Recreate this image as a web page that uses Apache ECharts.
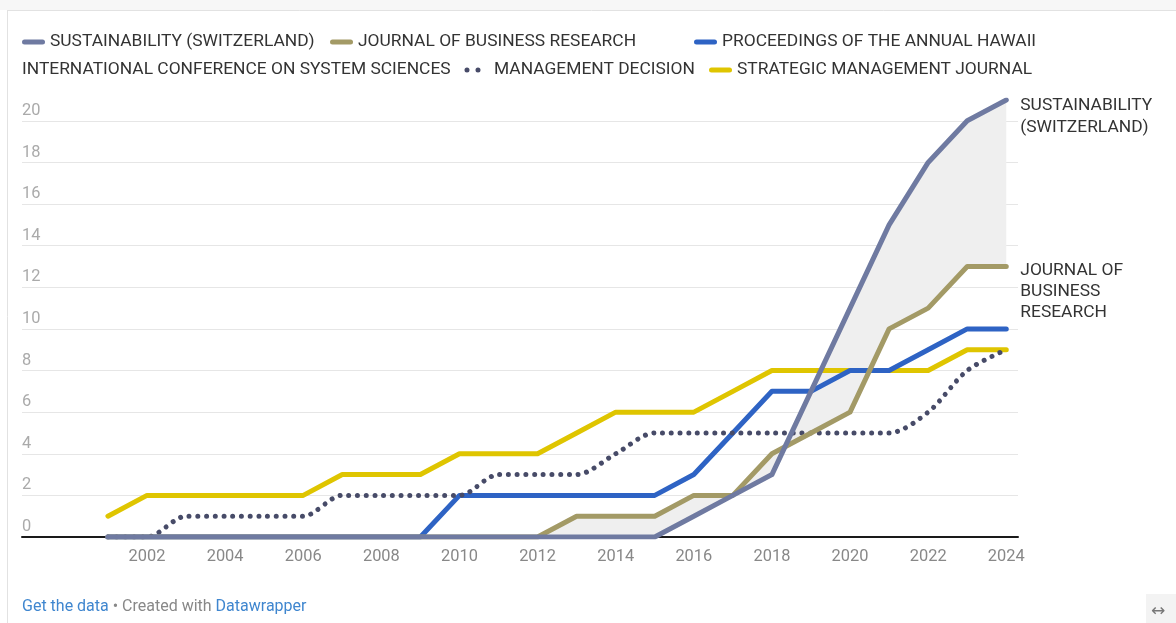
<!DOCTYPE html>
<html>
<head>
<meta charset="utf-8">
<script src="https://cdn.jsdelivr.net/npm/echarts@6/dist/echarts.min.js"></script>
<style>
html,body{margin:0;padding:0;background:#fff;}
#chart{position:absolute;left:0;top:0;width:1176px;height:623px;}
</style>
</head>
<body>
<div id="chart"></div>
<script>
// ---- data ----
const years = [2001,2002,2003,2004,2005,2006,2007,2008,2009,2010,2011,2012,2013,2014,2015,2016,2017,2018,2019,2020,2021,2022,2023,2024];
const sustainability = [0,0,0,0,0,0,0,0,0,0,0,0,0,0,0,1,2,3,7,11,15,18,20,21];
const journalBusinessResearch = [0,0,0,0,0,0,0,0,0,0,0,0,1,1,1,2,2,4,5,6,10,11,13,13];
const hawaiiConference = [0,0,0,0,0,0,0,0,0,2,2,2,2,2,2,3,5,7,7,8,8,9,10,10];
const managementDecision = [0,0,1,1,1,1,2,2,2,2,3,3,3,4,5,5,5,5,5,5,5,6,8,9];
const strategicManagement = [1,2,2,2,2,2,3,3,3,4,4,4,5,6,6,6,7,8,8,8,8,8,9,9];
const xTickLabels = [2002,2004,2006,2008,2010,2012,2014,2016,2018,2020,2022,2024];
const yTickLabels = [0,2,4,6,8,10,12,14,16,18,20];

const names = {
  sust: 'SUSTAINABILITY (SWITZERLAND)',
  jbr: 'JOURNAL OF BUSINESS RESEARCH',
  hawaii: 'PROCEEDINGS OF THE ANNUAL HAWAII INTERNATIONAL CONFERENCE ON SYSTEM SCIENCES',
  md: 'MANAGEMENT DECISION',
  smj: 'STRATEGIC MANAGEMENT JOURNAL'
};
const colors = {
  sust: '#6f7aa1',
  jbr: '#a39a66',
  hawaii: '#2e63c4',
  md: '#474b68',
  smj: '#dfc500'
};

const pair = arr => years.map((y, i) => [y, arr[i]]);

const FONT = 'Roboto, "Noto Sans", sans-serif';
const FS = 17.4;
const pill = 'path://M2.5,0H20.5A2.5,2.5 0 0 1 20.5,5H2.5A2.5,2.5 0 0 1 2.5,0Z';
const dots = 'path://M2.5,0A2.5,2.5 0 1 1 2.5,5A2.5,2.5 0 1 1 2.5,0ZM13.5,0A2.5,2.5 0 1 1 13.5,5A2.5,2.5 0 1 1 13.5,0Z';

function legend(name, left, top, opts) {
  return Object.assign({
    data: [name], left: left, top: top, padding: 0, orient: 'horizontal',
    icon: pill, itemWidth: 23, itemHeight: 5, selectedMode: false,
    textStyle: { color: '#333', fontSize: FS, fontFamily: FONT, lineHeight: 20 }
  }, opts || {});
}

const chart = echarts.init(document.getElementById('chart'), null, { renderer: 'canvas' });

const option = {
  animation: false,
  backgroundColor: '#fff',
  grid: { left: 22, right: 158, top: 100, bottom: 86, containLabel: false },
  legend: [
    legend(names.sust, 22, 32),
    legend(names.jbr, 330, 32),
    legend(names.hawaii, 694, 32, { formatter: () => 'PROCEEDINGS OF THE ANNUAL HAWAII' }),
    legend(names.md, 464.5, 60, { icon: dots, itemWidth: 16, itemHeight: 5,
      textStyle: { color: '#333', fontSize: FS, fontFamily: FONT, lineHeight: 20, padding: [0, 0, 0, 8.5] } }),
    legend(names.smj, 709, 60)
  ],
  xAxis: {
    type: 'value', min: 1998.8, max: 2024.3,
    axisLine: { show: true, onZero: true, lineStyle: { color: '#1a1a1a', width: 2 } },
    axisTick: { show: false },
    splitLine: { show: false },
    axisLabel: { customValues: xTickLabels, color: '#888', fontSize: 16.4, fontFamily: FONT, margin: 12,
      formatter: v => String(v) }
  },
  yAxis: {
    type: 'value', min: 0, max: 21,
    axisLine: { show: false },
    axisTick: { show: false, customValues: yTickLabels },
    splitLine: { show: true, lineStyle: { color: '#e6e6e6', width: 1 } },
    axisLabel: { customValues: yTickLabels, inside: true, margin: 0, align: 'left', verticalAlign: 'bottom',
      padding: [0, 0, 2, 0], color: '#aaa', fontSize: 16.4, fontFamily: FONT }
  },
  series: [
    {
      type: 'custom', name: 'fill', silent: true, z: 1,
      data: [[2012, 0]],
      renderItem: function (params, api) {
        const pts = [];
        for (let i = 0; i < years.length; i++) {
          if (years[i] >= 2012) pts.push(api.coord([years[i], sustainability[i]]));
        }
        for (let i = years.length - 1; i >= 0; i--) {
          if (years[i] >= 2012) pts.push(api.coord([years[i], journalBusinessResearch[i]]));
        }
        return { type: 'polygon', shape: { points: pts }, style: { fill: '#efefef', stroke: null } };
      }
    },
    {
      type: 'line', name: names.smj, data: pair(strategicManagement), symbol: 'none', z: 3,
      color: colors.smj,
      lineStyle: { color: colors.smj, width: 5, cap: 'round', join: 'round' },
      emphasis: { disabled: true }
    },
    {
      type: 'line', name: names.hawaii, data: pair(hawaiiConference), symbol: 'none', z: 4,
      color: colors.hawaii,
      lineStyle: { color: colors.hawaii, width: 5, cap: 'round', join: 'round' },
      emphasis: { disabled: true }
    },
    {
      type: 'line', name: names.md, data: pair(managementDecision), symbol: 'none', z: 5,
      smooth: 0.3,
      color: colors.md,
      lineStyle: { color: colors.md, width: 5, type: [0.01, 8.7], cap: 'round' },
      emphasis: { disabled: true }
    },
    {
      type: 'line', name: names.jbr, data: pair(journalBusinessResearch), symbol: 'none', z: 6,
      color: colors.jbr,
      lineStyle: { color: colors.jbr, width: 5, cap: 'round', join: 'round' },
      emphasis: { disabled: true },
      endLabel: { show: true, formatter: 'JOURNAL OF\nBUSINESS\nRESEARCH', distance: 14,
        align: 'left', verticalAlign: 'top', offset: [0, -6], lineHeight: 21,
        color: '#333', fontSize: FS, fontFamily: FONT }
    },
    {
      type: 'line', name: names.sust, data: pair(sustainability), symbol: 'none', z: 7,
      color: colors.sust,
      lineStyle: { color: colors.sust, width: 5, cap: 'round', join: 'round' },
      emphasis: { disabled: true },
      endLabel: { show: true, formatter: 'SUSTAINABILITY\n(SWITZERLAND)', distance: 14,
        align: 'left', verticalAlign: 'top', offset: [0, -5], lineHeight: 22,
        color: '#333', fontSize: FS, fontFamily: FONT }
    }
  ],
  graphic: [
    { type: 'rect', shape: { x: 0, y: 0, width: 1176, height: 10 }, style: { fill: '#f7f7f7' }, z: 0, silent: true },
    { type: 'line', shape: { x1: 7, y1: 10.5, x2: 1176, y2: 10.5 }, style: { stroke: '#e2e2e2', lineWidth: 1 }, silent: true },
    { type: 'line', shape: { x1: 7.5, y1: 10, x2: 7.5, y2: 623 }, style: { stroke: '#e2e2e2', lineWidth: 1 }, silent: true },
    { type: 'text', left: 22, top: 60, silent: true,
      style: { text: 'INTERNATIONAL CONFERENCE ON SYSTEM SCIENCES', fill: '#333', fontSize: FS, fontFamily: FONT, lineHeight: 20 } },
    { type: 'text', left: 22, top: 599, silent: true,
      style: { text: '{a|Get the data} {b|• Created with} {a|Datawrapper}', fontFamily: FONT, fontSize: 16,
        rich: { a: { fill: '#3f86cf', fontSize: 16, fontFamily: FONT }, b: { fill: '#888', fontSize: 16, fontFamily: FONT } } } },
    { type: 'rect', shape: { x: 1146, y: 594, width: 30, height: 29 }, style: { fill: '#f3f3f3' }, silent: true },
    { type: 'text', left: 1151, top: 603, silent: true,
      style: { text: '↔', fill: '#777', fontSize: 17, fontFamily: '"DejaVu Sans", sans-serif' } }
  ]
};
chart.setOption(option);
</script>
</body>
</html>
